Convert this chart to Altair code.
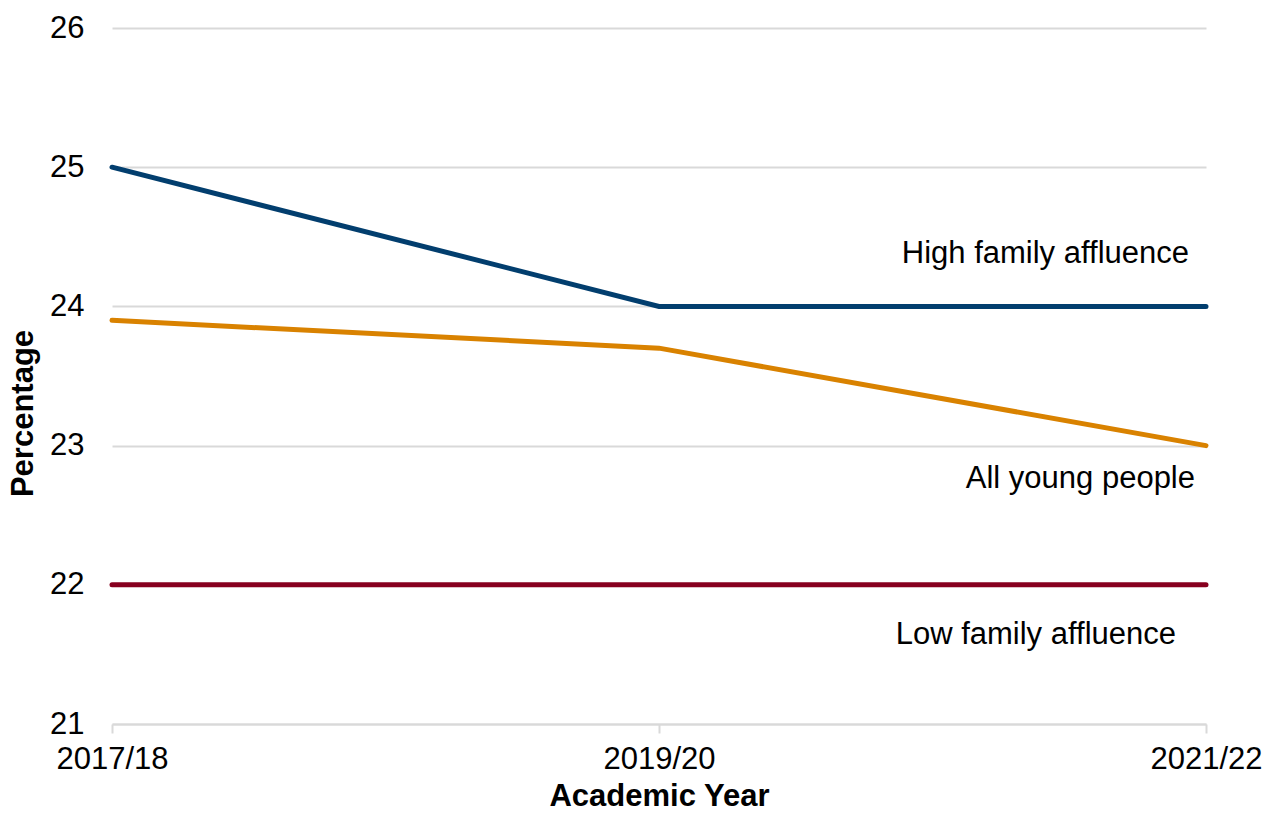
import altair as alt
import pandas as pd

years = ["2017/18", "2019/20", "2021/22"]
high = [25, 24, 24]
all_young = [23.9, 23.7, 23.0]
low = [22, 22, 22]

series_names = ["High family affluence", "All young people", "Low family affluence"]
series_colors = ["#023E6E", "#D98200", "#87001F"]

label_y = [24.38, 22.76, 21.64]
label_dx = [-17, -11, -30]

rows = []
for name, vals in zip(series_names, [high, all_young, low]):
    for yr, v in zip(years, vals):
        rows.append({"year": yr, "value": v, "series": name})
df = pd.DataFrame(rows)

labels = pd.DataFrame({
    "year": [years[-1]] * 3,
    "value": label_y,
    "series": series_names,
})

FS = 31

x_enc = alt.X(
    "year:N",
    sort=years,
    scale=alt.Scale(type="point", padding=0),
    axis=alt.Axis(
        title="Academic Year",
        labelAngle=0,
        labelFontSize=FS,
        labelColor="#000000",
        labelPadding=11,
        titleFontSize=FS,
        titleFontWeight="bold",
        titleColor="#000000",
        titlePadding=7,
        domainColor="#D9D9D9",
        domainWidth=2,
        tickColor="#D9D9D9",
        tickWidth=2,
        tickSize=9,
        grid=False,
    ),
)
y_enc = alt.Y(
    "value:Q",
    scale=alt.Scale(domain=[21, 26], nice=False, zero=False),
    axis=alt.Axis(
        title="Percentage",
        values=[21, 22, 23, 24, 25, 26],
        format="d",
        labelFontSize=FS,
        labelColor="#000000",
        labelPadding=28,
        titleFontSize=FS,
        titleFontWeight="bold",
        titleColor="#000000",
        titleX=-73,
        titleY=385,
        domain=False,
        ticks=False,
        grid=True,
        gridColor="#D9D9D9",
        gridWidth=2,
    ),
)

color_scale = alt.Scale(domain=series_names, range=series_colors)

lines = alt.Chart(df).mark_line(strokeWidth=5, strokeCap="round").encode(
    x=x_enc,
    y=y_enc,
    color=alt.Color("series:N", scale=color_scale, legend=None),
    detail="series:N",
)

layers = [lines]
for i, name in enumerate(series_names):
    t = alt.Chart(labels[labels["series"] == name]).mark_text(
        align="right", baseline="middle", fontSize=FS, color="#000000", dx=label_dx[i]
    ).encode(
        x=alt.X("year:N", sort=years),
        y=alt.Y("value:Q"),
        text="series:N",
    )
    layers.append(t)

chart = alt.layer(*layers).properties(
    width=1094,
    height=696,
    autosize=alt.AutoSizeParams(type="none"),
    padding={"left": 104, "top": 20, "right": 56, "bottom": 82},
).configure(font="Liberation Sans").configure_view(stroke=None)

chart.save("out.html", embed_options={"renderer": "svg", "actions": False})
